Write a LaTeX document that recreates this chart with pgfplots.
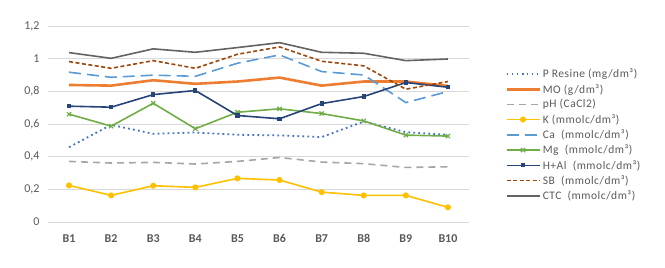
\documentclass[border=0pt]{standalone}
\usepackage{pgfplots}
\pgfplotsset{compat=1.18}
\usepackage{fontspec}
\setmainfont{Carlito}
\newfontfamily\legfont[LetterSpace=4.5]{Carlito}
\definecolor{cP}{HTML}{4472C4}
\definecolor{cMO}{HTML}{ED7D31}
\definecolor{cpH}{HTML}{A5A5A5}
\definecolor{cK}{HTML}{FFC000}
\definecolor{cCa}{HTML}{5B9BD5}
\definecolor{cMg}{HTML}{70AD47}
\definecolor{cHAl}{HTML}{264478}
\definecolor{cSB}{HTML}{9E480E}
\definecolor{cCTC}{HTML}{636363}
\definecolor{cGrid}{HTML}{D9D9D9}
\definecolor{cTxt}{HTML}{595959}
\begin{document}
\begin{tikzpicture}[x=1pt,y=1pt]
\path[use as bounding box] (0,0) rectangle (665,268);
\begin{axis}[
  at={(48pt,46pt)}, anchor=south west,
  scale only axis, width=421pt, height=196pt,
  xmin=-0.5, xmax=9.5, ymin=0, ymax=1.2,
  xtick={0,...,9},
  xticklabels={B1,B2,B3,B4,B5,B6,B7,B8,B9,B10},
  ytick={0,0.2,...,1.2},
  /pgf/number format/use comma,
  /pgf/number format/assume math mode=true,
  yticklabel style={font=\fontsize{12}{14}\selectfont, text=cTxt, xshift=-5pt},
  xticklabel style={font=\bfseries\fontsize{12}{14}\selectfont, text=cTxt, yshift=-9pt},
  ymajorgrids, grid style={cGrid, line width=0.8pt},
  axis line style={draw=none},
  tick style={draw=none},
  legend style={at={(1.0855,0.792)}, anchor=north west, draw=none, fill=none,
    font=\legfont\fontsize{11.5}{13}\selectfont, text=cTxt,
    row sep=0.9pt, cells={anchor=west}, inner sep=0pt,
    /tikz/every even column/.append style={column sep=0pt}},
  legend image code/.code={\draw[mark repeat=2,mark phase=2,#1] plot coordinates {(0pt,0pt) (16.5pt,0pt) (33pt,0pt)};},
  every axis plot/.append style={line width=1.6pt},
  mark size=1.8pt,
]
\addplot[cP, dash pattern=on 1.8pt off 3.2pt, line width=1.8pt] coordinates {(0,0.458)(1,0.595)(2,0.540)(3,0.548)(4,0.534)(5,0.530)(6,0.520)(7,0.615)(8,0.550)(9,0.534)};
\addlegendentry{P Resine (mg/dm³)}
\addplot[cMO, line width=2.6pt] coordinates {(0,0.839)(1,0.835)(2,0.868)(3,0.846)(4,0.860)(5,0.884)(6,0.835)(7,0.860)(8,0.860)(9,0.833)};
\addlegendentry{MO (g/dm³)}
\addplot[cpH, dash pattern=on 7pt off 5pt] coordinates {(0,0.371)(1,0.361)(2,0.365)(3,0.355)(4,0.371)(5,0.395)(6,0.367)(7,0.357)(8,0.334)(9,0.338)};
\addlegendentry{pH (CaCl2)}
\addplot[cK, mark=*, mark size=2.2pt, mark options={solid, fill=cK}] coordinates {(0,0.224)(1,0.163)(2,0.222)(3,0.212)(4,0.267)(5,0.257)(6,0.183)(7,0.163)(8,0.163)(9,0.090)};
\addlegendentry{K (mmolc/dm³)}
\addplot[cCa, dash pattern=on 12pt off 6pt] coordinates {(0,0.917)(1,0.886)(2,0.899)(3,0.892)(4,0.972)(5,1.023)(6,0.921)(7,0.900)(8,0.731)(9,0.799)};
\addlegendentry{Ca\ \ (mmolc/dm³)}
\addplot[cMg, mark=x, mark size=3pt, mark options={solid, line width=1.2pt}] coordinates {(0,0.660)(1,0.587)(2,0.727)(3,0.571)(4,0.672)(5,0.693)(6,0.664)(7,0.619)(8,0.532)(9,0.526)};
\addlegendentry{Mg\ \ (mmolc/dm³)}
\addplot[cHAl, mark=square*, mark size=1.3pt, mark options={solid, fill=cHAl}] coordinates {(0,0.709)(1,0.703)(2,0.780)(3,0.805)(4,0.652)(5,0.632)(6,0.725)(7,0.768)(8,0.854)(9,0.825)};
\addlegendentry{H+Al\ \ (mmolc/dm³)}
\addplot[cSB, dash pattern=on 4pt off 2.5pt] coordinates {(0,0.982)(1,0.941)(2,0.988)(3,0.941)(4,1.027)(5,1.072)(6,0.984)(7,0.956)(8,0.813)(9,0.860)};
\addlegendentry{SB\ \ (mmolc/dm³)}
\addplot[cCTC] coordinates {(0,1.037)(1,1.002)(2,1.060)(3,1.039)(4,1.068)(5,1.098)(6,1.039)(7,1.033)(8,0.988)(9,0.998)};
\addlegendentry{CTC\ \ (mmolc/dm³)}
\end{axis}
\end{tikzpicture}
\end{document}
